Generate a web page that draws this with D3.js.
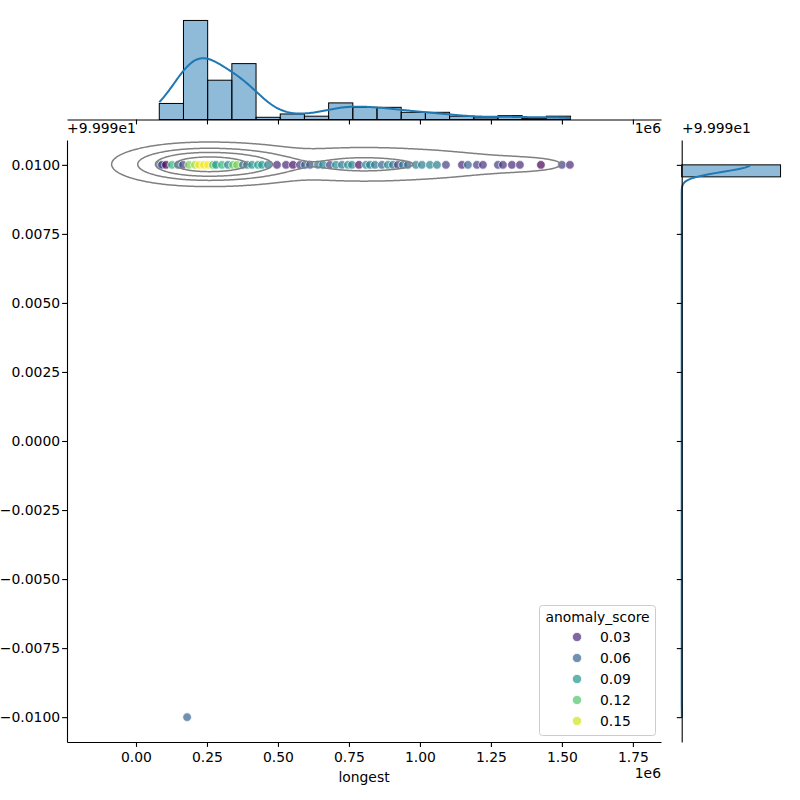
<!DOCTYPE html>
<html lang="en">
<head>
<meta charset="UTF-8">
<title>longest / anomaly_score joint plot</title>
<script src="https://d3js.org/d3.v7.min.js"></script>
<style>
  body { margin: 0; background: #fff; }
  text { font-family: "DejaVu Sans", sans-serif; font-size: 13.9px; fill: #000; }
</style>
</head>
<body>
<script>
// ---- data ----
// marginal histogram of "longest"
const binStart = 82000;
const binWidth = 85200;
const histCounts = [29, 179, 71, 101, 4, 10, 6, 30, 22, 22, 13, 13, 6, 3, 7, 2, 6];

// y column (axes show it with offset +9.999e1)
const yOffset = 99.99;
const rowValues = [100.0, 99.98];
const rowCounts = [523, 1];
const yBinWidth = 0.000436;

// distinct dots on the top row: longest, anomaly_score
const rowLongest = [84500, 91500, 105600, 126800, 147900, 165500, 186600, 207700, 221800, 239400,
  253500, 271100, 281700, 302800, 323900, 341500, 355600, 376800, 390800, 408500,
  429600, 443700, 464800, 496500, 528200, 552800, 577500, 595100, 612700, 640800,
  658500, 683100, 704200, 725400, 746500, 760600, 785200, 809900, 823900, 841500,
  866200, 887300, 904900, 922500, 940100, 957700, 985900, 1007000, 1035200, 1059900,
  1091500, 1147900, 1169000, 1200700, 1221800, 1274600, 1292300, 1323900, 1352100, 1426100,
  1500000, 1528200];
const rowScore = [0.06, 0.045, 0.014, 0.11, 0.065, 0.04, 0.13, 0.14, 0.16, 0.155,
  0.16, 0.12, 0.09, 0.11, 0.08, 0.125, 0.13, 0.06, 0.08, 0.085,
  0.095, 0.09, 0.075, 0.03, 0.03, 0.02, 0.04, 0.06, 0.05, 0.07,
  0.08, 0.04, 0.085, 0.07, 0.085, 0.08, 0.02, 0.08, 0.075, 0.07,
  0.06, 0.08, 0.07, 0.04, 0.07, 0.06, 0.075, 0.075, 0.08, 0.075,
  0.04, 0.03, 0.06, 0.04, 0.035, 0.04, 0.035, 0.03, 0.03, 0.015,
  0.04, 0.03];
// the single low point
const lowLongest = [180000];
const lowScore = [0.06];

const legendScores = [0.03, 0.06, 0.09, 0.12, 0.15];
const xTicks = [0, 250000, 500000, 750000, 1000000, 1250000, 1500000, 1750000];
const yTicks = [-0.01, -0.0075, -0.005, -0.0025, 0, 0.0025, 0.005, 0.0075, 0.01];
const contourLevels = [0.05, 0.2875, 0.525, 0.7625];

const kdeBandwidth = 72000;     // 1d kde of longest
const jointBandwidth = 108000;  // x bandwidth of the 2d kde

// ---- layout ----
const W = 800, H = 800;
const svg = d3.select("body").append("svg").attr("width", W).attr("height", H);

const x = d3.scaleLinear().domain([-243000, 1849000]).range([67, 661]);
const y = d3.scaleLinear().domain([-0.0109, 0.0109]).range([742, 140]);
const yv = v => y(v - yOffset);

const ym = d3.scaleLinear().domain([0, d3.max(histCounts) * 1.05]).range([119.5, 15.5]);
const xm = d3.scaleLinear().domain([0, d3.max(rowCounts) * 1.05]).range([681.7, 785.5]);

const color = d3.scaleSequential(d3.interpolateViridis)
  .domain(d3.extent(rowScore.concat(lowScore)));

// gaussian helpers
function normCdf(z) {
  const s = z < 0 ? -1 : 1;
  const a = Math.abs(z) / Math.SQRT2;
  const t = 1 / (1 + 0.3275911 * a);
  const e = 1 - (((((1.061405429 * t - 1.453152027) * t) + 1.421413741) * t - 0.284496736) * t + 0.254829592) * t * Math.exp(-a * a);
  return 0.5 * (1 + s * e);
}
function normPdf(z) { return Math.exp(-0.5 * z * z) / Math.sqrt(2 * Math.PI); }

const binEdges = d3.range(histCounts.length + 1).map(i => binStart + i * binWidth);
const binEnd = binEdges[binEdges.length - 1];

// kde of the binned values, in counts per bin
function binnedKde(xv, bw) {
  return d3.sum(histCounts, (c, i) => c * (normCdf((xv - binEdges[i]) / bw) - normCdf((xv - binEdges[i + 1]) / bw)));
}

// y statistics for the y kde (scott)
const nRows = d3.sum(rowCounts);
const yMean = d3.sum(rowValues, (v, i) => v * rowCounts[i]) / nRows;
const yStd = Math.sqrt(d3.sum(rowValues, (v, i) => rowCounts[i] * (v - yMean) ** 2) / (nRows - 1));
const yBw1 = yStd * Math.pow(nRows, -1 / 5);
const yBw2 = yStd * Math.pow(nRows, -1 / 6);

// ---- top marginal ----
const gTop = svg.append("g");
gTop.selectAll("rect").data(histCounts).join("rect")
  .attr("x", (d, i) => x(binEdges[i]))
  .attr("y", d => ym(d))
  .attr("width", (d, i) => x(binEdges[i + 1]) - x(binEdges[i]))
  .attr("height", d => ym(0) - ym(d))
  .attr("fill", "#1f77b4").attr("fill-opacity", 0.5)
  .attr("stroke", "#000").attr("stroke-width", 1);

const topKde = d3.range(0, 301).map(k => {
  const xv = binStart + (binEnd - binStart) * k / 300;
  return [xv, binnedKde(xv, kdeBandwidth)];
});
gTop.append("path").datum(topKde)
  .attr("d", d3.line().x(d => x(d[0])).y(d => ym(d[1])))
  .attr("fill", "none").attr("stroke", "#1f77b4").attr("stroke-width", 2);

const topAxis = gTop.append("g").attr("transform", "translate(0,119.5)")
  .call(d3.axisBottom(x).tickValues(xTicks).tickFormat("").tickSize(4.9).tickSizeOuter(0));
topAxis.select(".domain").attr("stroke-width", 1.1);
topAxis.selectAll(".tick line").attr("stroke-width", 1.1);

// ---- right marginal ----
const gRight = svg.append("g");
const yBinMin = d3.min(rowValues), yBinMax = d3.max(rowValues);
const yBinCount = Math.round((yBinMax - yBinMin) / yBinWidth);
const yBinStep = (yBinMax - yBinMin) / yBinCount;
const yBars = rowValues.map((v, i) => {
  const k = Math.min(Math.floor((v - yBinMin) / yBinStep + 1e-9), yBinCount - 1);
  const lo = yBinMin + k * yBinStep;
  return { lo: lo, hi: lo + yBinStep, count: rowCounts[i] };
});
gRight.selectAll("rect").data(yBars).join("rect")
  .attr("x", xm(0))
  .attr("y", d => yv(d.hi))
  .attr("width", d => xm(d.count) - xm(0))
  .attr("height", d => yv(d.lo) - yv(d.hi))
  .attr("fill", "#1f77b4").attr("fill-opacity", 0.5)
  .attr("stroke", "#000").attr("stroke-width", 1);

const rightKde = d3.range(0, 401).map(k => {
  const v = yBinMin + (yBinMax - yBinMin) * k / 400;
  const dens = d3.sum(rowValues, (rv, i) => rowCounts[i] * normPdf((v - rv) / yBw1) / yBw1);
  return [v, dens * yBinStep];
});
gRight.append("path").datum(rightKde)
  .attr("d", d3.line().x(d => xm(d[1])).y(d => yv(d[0])))
  .attr("fill", "none").attr("stroke", "#1f77b4").attr("stroke-width", 2);

const rightAxis = gRight.append("g").attr("transform", "translate(681.7,0)")
  .call(d3.axisLeft(y).tickValues(yTicks).tickFormat("").tickSize(4.9).tickSizeOuter(0));
rightAxis.select(".domain").attr("stroke-width", 1.1);
rightAxis.selectAll(".tick line").attr("stroke-width", 1.1);

// ---- joint axes ----
const gMain = svg.append("g");

// scatter
const points = rowLongest.map((d, i) => ({ x: d, y: rowValues[0], s: rowScore[i] }))
  .concat(lowLongest.map((d, i) => ({ x: d, y: rowValues[1], s: lowScore[i] })));
gMain.append("g").selectAll("circle").data(points).join("circle")
  .attr("cx", d => x(d.x))
  .attr("cy", d => yv(d.y))
  .attr("r", 4.3)
  .attr("fill", d => color(d.s)).attr("fill-opacity", 0.7)
  .attr("stroke", "#fff").attr("stroke-opacity", 0.7).attr("stroke-width", 1);

// 2d kde contours (iso-proportion levels)
const nx = 520, ny = 180;
const gx0 = x.domain()[0], gx1 = x.domain()[1];
const vTop = rowValues[0] - yOffset;
const gy0 = vTop - 0.0035, gy1 = vTop + 0.0035;
const dxs = (gx1 - gx0) / (nx - 1), dys = (gy1 - gy0) / (ny - 1);
const fx = d3.range(nx).map(i => binnedKde(gx0 + i * dxs, jointBandwidth));
const gyv = d3.range(ny).map(j => normPdf((gy0 + j * dys - vTop) / yBw2));
const grid = new Float64Array(nx * ny);
for (let j = 0; j < ny; j++) for (let i = 0; i < nx; i++) grid[j * nx + i] = fx[i] * gyv[j];

const sortedDesc = Float64Array.from(grid).sort().reverse();
const total = d3.sum(sortedDesc);
let acc = 0;
const cum = sortedDesc.map(v => (acc += v) / total);
const thresholds = contourLevels.map(p => {
  const idx = d3.bisectLeft(cum, 1 - p);
  return sortedDesc[Math.min(idx, sortedDesc.length - 1)];
});

const contours = d3.contours().size([nx, ny]).thresholds(thresholds)(grid);
const gridPath = d3.geoPath(d3.geoTransform({
  point: function (px, py) { this.stream.point(x(gx0 + px * dxs), y(gy0 + py * dys)); }
}));
gMain.append("g").selectAll("path").data(contours).join("path")
  .attr("d", gridPath)
  .attr("fill", "none").attr("stroke", "#808080").attr("stroke-width", 1.5);

// axes
const xAxis = gMain.append("g").attr("transform", "translate(0,742)")
  .call(d3.axisBottom(x).tickValues(xTicks).tickFormat(d => (d / 1e6).toFixed(2))
    .tickSize(4.9).tickPadding(4.9).tickSizeOuter(0));
const yAxis = gMain.append("g").attr("transform", "translate(67,0)")
  .call(d3.axisLeft(y).tickValues(yTicks).tickFormat(d3.format(".4f"))
    .tickSize(4.9).tickPadding(2).tickSizeOuter(0));
[xAxis, yAxis].forEach(a => {
  a.select(".domain").attr("stroke-width", 1.1);
  a.selectAll(".tick line").attr("stroke-width", 1.1);
});

svg.append("text").attr("x", 364).attr("y", 782).attr("text-anchor", "middle").text("longest");
svg.append("text").attr("x", 661).attr("y", 778).attr("text-anchor", "end").text("1e6");
svg.append("text").attr("x", 67).attr("y", 133).text("+9.999e1");
svg.append("text").attr("x", 661).attr("y", 133).attr("text-anchor", "end").text("1e6");
svg.append("text").attr("x", 682).attr("y", 133).text("+9.999e1");

// legend
const lg = svg.append("g");
lg.append("rect").attr("x", 539.5).attr("y", 605.5).attr("width", 116).attr("height", 130)
  .attr("rx", 3).attr("fill", "#fff").attr("fill-opacity", 0.8)
  .attr("stroke", "#cccccc").attr("stroke-width", 1);
lg.append("text").attr("x", 597.5).attr("y", 622).attr("text-anchor", "middle").text("anomaly_score");
const rows = lg.selectAll("g.row").data(legendScores).join("g").attr("class", "row")
  .attr("transform", (d, i) => `translate(0,${637 + i * 21})`);
rows.append("circle").attr("cx", 577).attr("cy", 0).attr("r", 4.6)
  .attr("fill", d => color(d)).attr("fill-opacity", 0.7)
  .attr("stroke", "#fff").attr("stroke-opacity", 0.7).attr("stroke-width", 1);
rows.append("text").attr("x", 600).attr("y", 5).text(d => d.toFixed(2));
</script>
</body>
</html>
